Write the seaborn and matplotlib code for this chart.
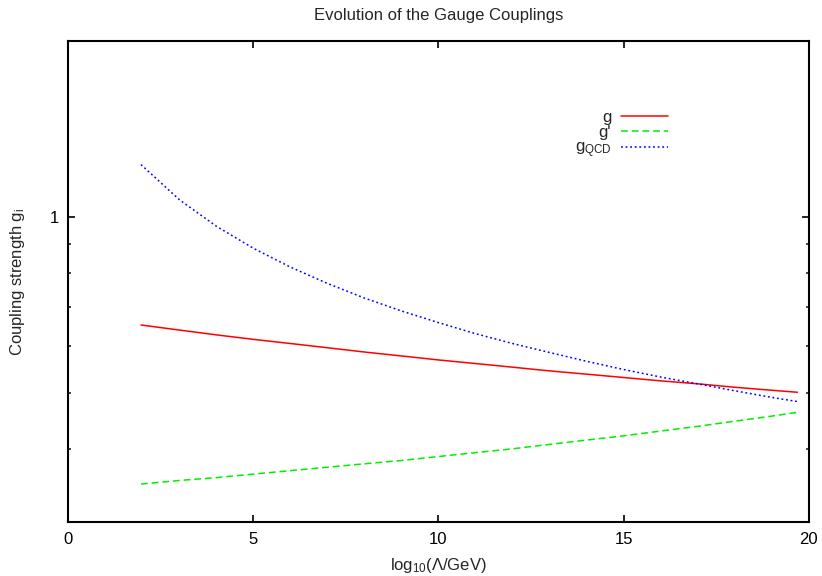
import matplotlib
matplotlib.use("Agg")
import matplotlib.pyplot as plt
import matplotlib.ticker as mticker
import numpy as np
import pandas as pd
import seaborn as sns

# Scale in log10(Lambda / GeV)
log_scale = [1.96, 3, 4, 5, 6, 7, 8, 9, 10, 11, 12, 13, 14, 15, 16, 17, 18, 19, 19.7]

# Running couplings read along the scale axis
g_weak = [0.653, 0.640, 0.628, 0.617, 0.607, 0.597, 0.587, 0.578, 0.569, 0.561,
          0.553, 0.545, 0.538, 0.531, 0.524, 0.518, 0.511, 0.505, 0.501]
g_hyper = [0.349, 0.354, 0.358, 0.363, 0.368, 0.373, 0.378, 0.383, 0.389, 0.395,
           0.401, 0.408, 0.415, 0.422, 0.430, 0.438, 0.447, 0.456, 0.463]
g_qcd = [1.228, 1.069, 0.963, 0.883, 0.820, 0.769, 0.726, 0.690, 0.659, 0.631,
         0.607, 0.586, 0.566, 0.548, 0.532, 0.518, 0.504, 0.491, 0.483]

series_labels = ["g", "g'", r"g$_{\rm QCD}$"]
x_ticks = [0, 5, 10, 15, 20]
y_major = [1]
y_minor = [0.4, 0.5, 0.6, 0.7, 0.8, 0.9]

sns.set_style("white")
plt.rcParams["font.family"] = ["Liberation Sans", "DejaVu Sans"]
plt.rcParams["mathtext.fontset"] = "custom"
plt.rcParams["mathtext.rm"] = "Liberation Sans"
plt.rcParams["mathtext.it"] = "Liberation Sans"
plt.rcParams["mathtext.bf"] = "Liberation Sans"

fs = 12

df = pd.DataFrame({
    "scale": log_scale * 3,
    "coupling": g_weak + g_hyper + g_qcd,
    "name": [series_labels[0]] * len(log_scale)
            + [series_labels[1]] * len(log_scale)
            + [series_labels[2]] * len(log_scale),
})

fig = plt.figure(figsize=(8.22, 5.76), dpi=100)
ax = fig.add_axes([0.0833, 0.0929, 0.9003, 0.8364])

styles = {
    series_labels[0]: dict(color="#ff0000", linestyle="-"),
    series_labels[1]: dict(color="#00ee00", linestyle=(0, (4.5, 2.5))),
    series_labels[2]: dict(color="#0000ff", linestyle=(0, (1.2, 1.8))),
}
for name in series_labels:
    sub = df[df["name"] == name]
    sns.lineplot(data=sub, x="scale", y="coupling", ax=ax, label=name,
                 linewidth=1.1, **styles[name])

ax.set_yscale("log")
ax.set_xlim(0, 20)
ax.set_ylim(0.3, 2.0)
ax.set_xticks(x_ticks)
ax.set_xticklabels([str(t) for t in x_ticks], fontsize=fs)
ax.yaxis.set_major_locator(mticker.FixedLocator(y_major))
ax.yaxis.set_major_formatter(mticker.FixedFormatter(["1"]))
ax.yaxis.set_minor_locator(mticker.FixedLocator(y_minor))
ax.yaxis.set_minor_formatter(mticker.NullFormatter())
for lbl in ax.get_yticklabels():
    lbl.set_fontsize(fs)

ax.tick_params(axis="both", which="major", direction="in", length=5, width=1.2,
               top=True, right=True, bottom=True, left=True, pad=7, colors="black")
ax.tick_params(axis="y", which="minor", direction="in", length=2.5, width=1.2,
               right=True, left=True)
for sp in ax.spines.values():
    sp.set_linewidth(1.5)
    sp.set_color("black")

ax.set_xlabel(r"log$_{10}$(Λ/GeV)", fontsize=fs, labelpad=6)
ax.set_ylabel(r"Coupling strength g$_{i}$", fontsize=fs, labelpad=16)
ax.set_title("Evolution of the Gauge Couplings", fontsize=fs, pad=15)

leg = ax.legend(loc="upper right", bbox_to_anchor=(0.81, 0.857), frameon=False,
                markerfirst=False, fontsize=fs, handlelength=2.8,
                handletextpad=0.6, labelspacing=0.03, borderaxespad=0, borderpad=0)

fig.savefig("out.png", dpi=100)
